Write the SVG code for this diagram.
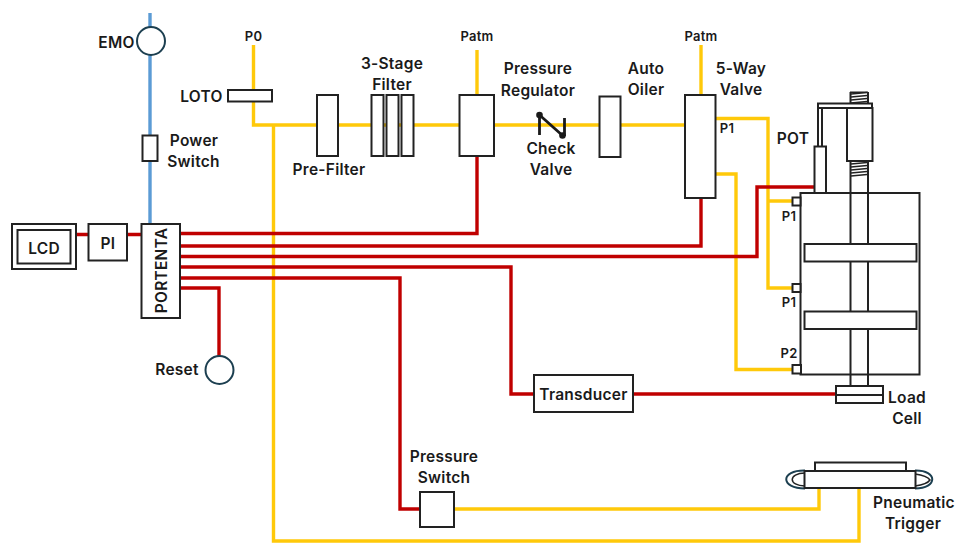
<svg xmlns="http://www.w3.org/2000/svg" width="958" height="543" viewBox="0 0 958 543">
<style>
text{font-family:Inter,"Open Sans","Liberation Sans",sans-serif;font-weight:600;font-size:15.500px;letter-spacing:.25px;fill:#1a1a1a;text-anchor:middle}
.s{font-size:13px}
.c{fill:none;stroke-width:3.4;stroke-linejoin:miter}
.y{stroke:#ffc90a}.r{stroke:#c00000}.b{stroke:#5b9bd5}
.n{fill:#fff;stroke:#222;stroke-width:2}
.l{fill:none;stroke:#222;stroke-width:2}
.t{fill:none;stroke:#222;stroke-width:1.400}
.k{fill:#fff;stroke:#1c3f50;stroke-width:2}
</style>
<rect width="958" height="543" fill="#fff"/>
<g id="connectors">
<path class="c b" d="M150 13V224"/>
<path class="c y" d="M253.500 45V125H317M338 125H371M383 125H386M398 125H401M413 125H460M477 50V95M494 125H599M621 125H686M701 45V95M715 118.500H768V288H792M768 201H792M715 174H736V369.500H792M273.500 125V541H859V488M454 509H819V488"/>
<path class="c r" d="M76 234.500H88M127 234.500H141M180 233.500H477V156M180 246H701V198M180 256.500H757V187H815M180 267H511V394H534M180 278H400V509H420M180 288H219V356M633 394H836"/>
</g>
<g id="emo"><circle class="k" cx="151" cy="41" r="14"/><text x="116.500" y="48">EMO</text></g>
<g id="power-switch"><rect class="n" x="142.500" y="135.500" width="15" height="25.500"/><text x="194" y="146">Power</text><text x="193.500" y="167">Switch</text></g>
<g id="lcd"><rect class="n" x="12" y="224" width="64" height="45"/><rect class="n" x="17.500" y="230" width="53" height="33.500"/><text x="44" y="254">LCD</text></g>
<g id="pi"><rect class="n" x="88.500" y="224" width="38.500" height="36.500"/><text x="108" y="249">PI</text></g>
<g id="portenta"><rect class="n" x="141.500" y="224" width="38.500" height="94"/><text transform="translate(167,270.500) rotate(-90)">PORTENTA</text></g>
<g id="p0"><text class="s" x="253.500" y="41">P0</text></g>
<g id="loto"><rect class="n" x="228" y="90" width="44" height="11.500"/><text x="201.500" y="102">LOTO</text></g>
<g id="pre-filter"><rect class="n" x="317" y="95" width="21" height="61"/><text x="329" y="175">Pre-Filter</text></g>
<g id="filter-3-stage"><rect class="n" x="371.500" y="95" width="12" height="61"/><rect class="n" x="386.500" y="95" width="12" height="61"/><rect class="n" x="401.500" y="95" width="12" height="61"/><text x="392" y="69">3-Stage</text><text x="392" y="90">Filter</text></g>
<g id="pressure-regulator"><rect class="n" x="459.500" y="95" width="34.500" height="61"/><text class="s" x="477" y="41">Patm</text><text x="538" y="74">Pressure</text><text x="538" y="96">Regulator</text></g>
<g id="check-valve"><path d="M539.500 115V135M564.500 118V136M539.500 115L562.500 135.500" fill="none" stroke="#1a1a1a" stroke-width="2.800"/><circle cx="539.500" cy="115" r="3.300" fill="#1a1a1a"/><circle cx="562.500" cy="135.500" r="3.300" fill="#1a1a1a"/><text x="551" y="154">Check</text><text x="551" y="175">Valve</text></g>
<g id="auto-oiler"><rect class="n" x="599.500" y="96.500" width="21" height="60.500"/><text x="646" y="74">Auto</text><text x="646" y="95">Oiler</text></g>
<g id="five-way-valve"><rect class="n" x="685" y="95" width="30.500" height="103"/><text class="s" x="701" y="41">Patm</text><text x="741" y="74">5-Way</text><text x="741" y="95">Valve</text><text class="s" x="727" y="133">P1</text></g>
<g id="cylinder">
<rect class="n" x="800.500" y="193" width="119" height="181.500"/>
<path class="l" d="M850.500 92V386M868 92V386"/>
<rect class="n" x="804.500" y="244" width="112" height="17.500"/>
<rect class="n" x="804.500" y="311.500" width="112" height="17.500"/>
<rect class="n" x="792.500" y="197.500" width="8" height="8"/>
<rect class="n" x="792.500" y="284" width="8" height="8"/>
<rect class="n" x="792.500" y="365" width="8.500" height="8.500"/>
<text class="s" x="789" y="221">P1</text><text class="s" x="789" y="307">P1</text><text class="s" x="789" y="358">P2</text>
</g>
<g id="pot">
<rect class="n" x="814.500" y="146.500" width="11.500" height="46.500"/>
<path class="l" d="M818 103V146M822 108V146"/>
<rect x="818" y="103.500" width="54" height="4.500" fill="#fff" stroke="#222" stroke-width="2"/>
<rect class="n" x="847" y="108" width="25.500" height="53"/>
<path class="t" d="M851 94L867 92.500M851 97L867 95.500M851 100L867 98.500M851 103L867 101.500M851 164L867 162.500M851 167L867 165.500M851 170L867 168.500M851 173L867 171.500M851 176L867 174.500"/>
<rect x="850" y="91.500" width="18" height="1.500" fill="#222"/>
<text x="793" y="144">POT</text>
</g>
<g id="load-cell"><rect class="n" x="836" y="386" width="47" height="17"/><path class="l" d="M836 395H883"/><text x="907" y="403">Load</text><text x="907" y="424">Cell</text></g>
<g id="transducer"><rect class="n" x="534" y="375" width="99" height="37"/><text x="583.500" y="400">Transducer</text></g>
<g id="reset"><circle class="k" cx="219.500" cy="370" r="14"/><text x="177" y="375">Reset</text></g>
<g id="pressure-switch"><rect class="n" x="420" y="492" width="34" height="35"/><text x="444" y="462">Pressure</text><text x="444" y="483">Switch</text></g>
<g id="pneumatic-trigger">
<path d="M805 470.500C780 470 780 488.500 805 488.500" fill="none" stroke="#1c3f50" stroke-width="2"/>
<path d="M805 473C788 473 788 486 805 486" fill="none" stroke="#222" stroke-width="1.500"/>
<path d="M915 470.500C938 470 938 488.500 915 488.500" fill="none" stroke="#1c3f50" stroke-width="2"/>
<path d="M915 474C922 475 928 477 930 480C928 483 922 485 915 486" fill="none" stroke="#222" stroke-width="1.500"/>
<rect class="n" x="815" y="462.500" width="91" height="8.500"/>
<rect class="n" x="804.500" y="471" width="111" height="17"/>
<text x="914" y="508">Pneumatic</text><text x="913" y="529">Trigger</text>
</g>
</svg>
